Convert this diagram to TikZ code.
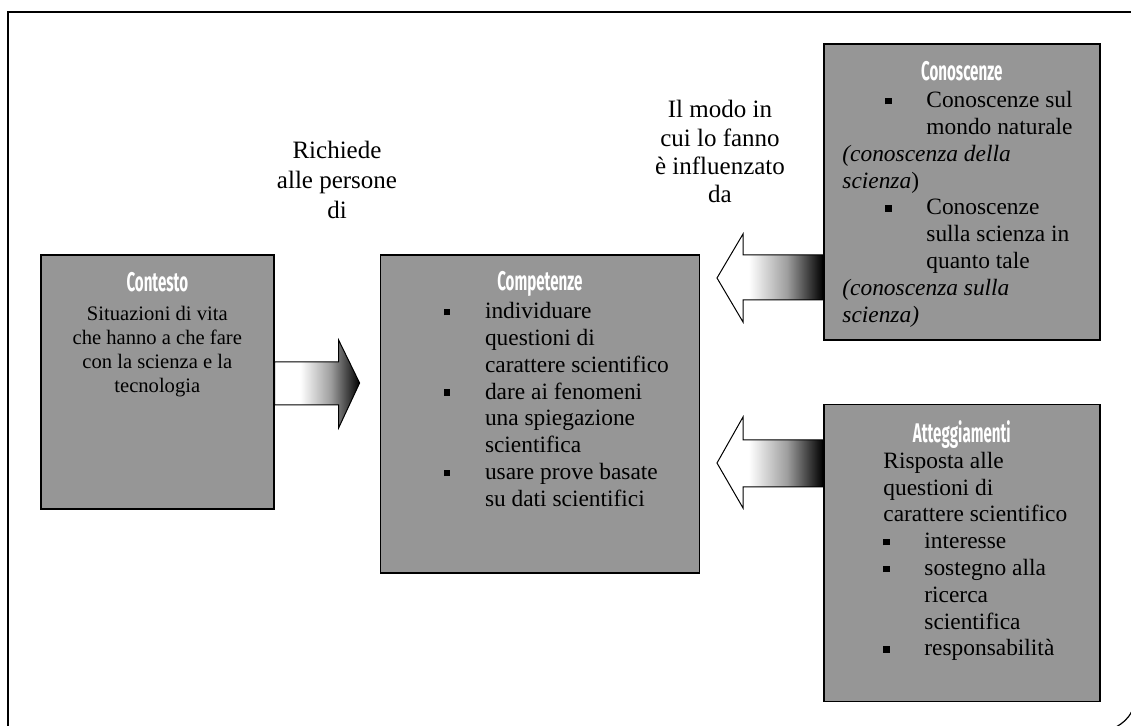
\documentclass[tikz,border=0pt]{standalone}
\usepackage{fontspec}
\setmainfont{Liberation Serif}
\newfontfamily\headfont[FakeStretch=0.56]{Fira Sans}
\usetikzlibrary{positioning}
\definecolor{panelgray}{gray}{0.59}
\pgfdeclarehorizontalshading{fade}{100bp}{rgb(0bp)=(1,1,1); rgb(40bp)=(1,1,1); rgb(58bp)=(0.62,0.62,0.62); rgb(75bp)=(0,0,0); rgb(100bp)=(0,0,0)}
\newcommand{\bul}{\makebox[20.5pt][l]{\rule[1.6pt]{3.2pt}{3.2pt}}}
\newcommand{\ind}{\hspace*{20.5pt}}

\begin{document}
\begin{tikzpicture}[
    x=0.5pt, y=-0.5pt,
    panel/.style={rectangle, draw=black, line width=0.8pt, fill=panelgray, inner sep=0pt},
    panelhead/.style={inner sep=0pt, text=white, font=\headfont\bfseries\fontsize{13.5}{15}\selectfont},
    paneltext/.style={inner sep=0pt, align=left, font=\fontsize{11.7}{13.4}\selectfont},
    sidetext/.style={inner sep=0pt, align=center, font=\fontsize{12.5}{15}\selectfont},
    fatarrow/.style={draw=black, line width=0.5pt, shading=fade},
    frame/.style={draw=black, line width=0.6pt}
]
    \useasboundingbox (0,0) rectangle (1131,726);
    \clip (0,0) rectangle (1131,726);

    % outer frame
    \draw[frame] (8,740) -- (8,12) -- (1145,12);
    \draw[frame] (1116,727) .. controls (1123,723) and (1128,719) .. (1132,711);

    % Panels
    \node[panel, minimum width=116.5pt, minimum height=127pt, anchor=north west] (ctx) at (40,254) {};
    \node[panel, minimum width=159.5pt, minimum height=159pt, anchor=north west] (cmp) at ([xshift=52.5pt]ctx.north east) {};
    \node[panel, minimum width=138pt, minimum height=148pt, anchor=north west] (con) at (823,43) {};
    \node[panel, minimum width=138pt, minimum height=148.5pt, below=31.5pt of con] (att) {};

    % Headings
    \node[panelhead, below=9pt of ctx.north] (ctxhead) {Contesto};
    \node[panelhead, below=8.5pt of cmp.north] (cmphead) {Competenze};
    \node[panelhead, below=9pt of con.north] (conhead) {Conoscenze};
    \node[panelhead, below=8.5pt of att.north] (atthead) {Atteggiamenti};

    % Panel texts
    \node[paneltext, align=center, font=\fontsize{10.3}{12}\selectfont, anchor=north] (ctxtext) at ([yshift=-26pt]ctx.north)
        {Situazioni di vita\\che hanno a che fare\\con la scienza e la\\tecnologia};
    \node[paneltext, anchor=north west] (cmptext) at ([xshift=32pt,yshift=-24pt]cmp.north west)
        {\bul individuare\\\ind questioni di\\\ind carattere scientifico\\\bul dare ai fenomeni\\\ind una spiegazione\\\ind scientifica\\\bul usare prove basate\\\ind su dati scientifici};
    \node[paneltext, anchor=north west] (context) at ([xshift=9.5pt,yshift=-24pt]con.north west)
        {\hspace*{21.5pt}\bul Conoscenze sul\\\hspace*{42pt}mondo naturale\\\textit{(conoscenza della}\\\textit{scienza})\\\hspace*{21.5pt}\bul Conoscenze\\\hspace*{42pt}sulla scienza in\\\hspace*{42pt}quanto tale\\\textit{(conoscenza sulla}\\\textit{scienza)}};
    \node[paneltext, anchor=north west] (atttext) at ([xshift=30pt,yshift=-24pt]att.north west)
        {Risposta alle\\questioni di\\carattere scientifico\\\bul interesse\\\bul sostegno alla\\\ind ricerca\\\ind scientifica\\\bul responsabilità};

    % Side labels
    \node[sidetext, anchor=north] (ask) at (337,141) {Richiede\\alle persone\\di};
    \node[sidetext, font=\fontsize{12.5}{14.2}\selectfont, anchor=north] (how) at (720,100)
        {Il modo in\\cui lo fanno\\è influenzato\\da};

    % Block arrows
    \path[fatarrow] (ctx.east |- 0,362) -- ++(64,0) -- ++(0,-22) -- ++(21,43) -- ++(-21,45) -- ++(0,-23) -- (ctx.east |- 0,405) -- cycle;
    \path[fatarrow] (con.west |- 0,255) -- ++(-80,0) -- ++(0,-21) -- ++(-26,44) -- ++(26,44) -- ++(0,-22) -- (con.west |- 0,300) -- cycle;
    \path[fatarrow] (att.west |- 0,440) -- ++(-80,0) -- ++(0,-23) -- ++(-26,46) -- ++(26,45) -- ++(0,-21) -- (att.west |- 0,487) -- cycle;
\end{tikzpicture}
\end{document}
